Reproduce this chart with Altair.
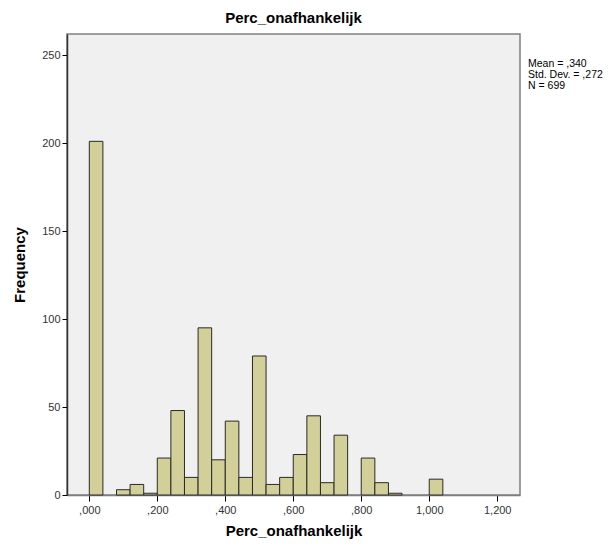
import altair as alt
import pandas as pd

bin_starts = [0.00, 0.08, 0.12, 0.16, 0.20, 0.24, 0.28, 0.32, 0.36, 0.40, 0.44,
              0.48, 0.52, 0.56, 0.60, 0.64, 0.68, 0.72, 0.80, 0.84, 0.88, 1.00]
counts = [201, 3, 6, 1, 21, 48, 10, 95, 20, 42, 10,
          79, 6, 10, 23, 45, 7, 34, 21, 7, 1, 9]
bin_width = 0.04
x_ticks = [0.0, 0.2, 0.4, 0.6, 0.8, 1.0, 1.2]
y_ticks = [0, 50, 100, 150, 200, 250]
stats_lines = ["Mean = ,340", "Std. Dev. = ,272", "N = 699"]

df = pd.DataFrame({"start": bin_starts, "count": counts})
df["end"] = df["start"] + bin_width

label_expr = ("datum.value < 1 ? ',' + substring(format(datum.value, '.3f'), 2) "
              ": replace(format(datum.value, '.3f'), '.', ',')")

x_scale = alt.Scale(domain=[-0.0656, 1.267], nice=False, zero=False)
y_scale = alt.Scale(domain=[0, 262], nice=False)

bars = alt.Chart(df).mark_rect(
    fill="#d3cf98", stroke="#2a2a2a", strokeWidth=1
).encode(
    x=alt.X("start:Q", scale=x_scale,
            axis=alt.Axis(values=x_ticks, labelExpr=label_expr, grid=False,
                          title="Perc_onafhankelijk", titleFontSize=15,
                          titleFontWeight="bold", titleFont="Liberation Sans",
                          titleColor="#000", titlePadding=8,
                          labelFont="Liberation Sans", labelFontSize=11,
                          labelColor="#333", tickSize=6, tickColor="#000",
                          domainColor="#7f7f7f", domainWidth=1.5, labelPadding=3)),
    x2="end:Q",
    y=alt.Y("count:Q", scale=y_scale,
            axis=alt.Axis(values=y_ticks, grid=False, title="Frequency",
                          titleFontSize=15, titleFontWeight="bold",
                          titleFont="Liberation Sans", titleColor="#000",
                          titlePadding=14,
                          labelFont="Liberation Sans", labelFontSize=11,
                          labelColor="#333", tickSize=5, tickColor="#000",
                          domainColor="#333", domainWidth=1.5, labelPadding=2)),
    y2=alt.datum(0),
)

stats_df = pd.DataFrame({"line": stats_lines, "i": list(range(len(stats_lines)))})
stats = alt.Chart(stats_df).mark_text(
    align="left", baseline="middle", font="Liberation Sans", fontSize=10.5, color="#000"
).encode(
    x=alt.value(461),
    y=alt.Y("i:O", axis=None, scale=alt.Scale(range=[30, 52], type="point", padding=0)),
    text="line:N",
)

chart = alt.layer(bars, stats).resolve_scale(y="independent").properties(
    width=453, height=461,
    background="white",
    title=alt.TitleParams("Perc_onafhankelijk", fontSize=15, fontWeight="bold",
                          font="Liberation Sans", color="#000", anchor="middle",
                          offset=8),
    autosize=alt.AutoSizeParams(type="none"),
    padding={"left": 59, "top": 26, "right": 88, "bottom": 45},
).configure_view(
    fill="#f0f0f0", stroke="#7f7f7f", strokeWidth=1.5
)

chart.save("out.html", embed_options={"renderer": "svg", "actions": False})
